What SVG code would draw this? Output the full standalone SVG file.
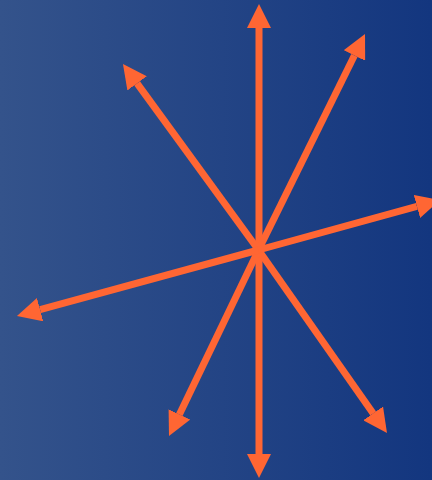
<svg xmlns="http://www.w3.org/2000/svg" width="432" height="480" viewBox="0 0 432 480">
<defs>
<linearGradient id="bg" x1="0" y1="0" x2="1" y2="0">
<stop offset="0" stop-color="#34538b"/>
<stop offset="1" stop-color="#13367f"/>
</linearGradient>
<marker id="ah" viewBox="0 0 24 24" refX="0" refY="12" markerWidth="24" markerHeight="24" markerUnits="userSpaceOnUse" orient="auto">
<path d="M0,0 L24,12 L0,24 Z" fill="#ff6633"/>
</marker>
<style>
.ray{stroke:#ff6633;stroke-width:7;fill:none;stroke-linecap:butt;marker-end:url(#ah);}
</style>
</defs>
<rect x="0" y="0" width="432" height="480" fill="url(#bg)"/>
<g id="connectors">
<line class="ray" x1="259" y1="250" x2="259" y2="28"/>
<line class="ray" x1="259" y1="250" x2="259" y2="454"/>
<line class="ray" x1="258.5" y1="250" x2="354.4" y2="55.5"/>
<line class="ray" x1="258.5" y1="250" x2="179.4" y2="414.4"/>
<line class="ray" x1="258.5" y1="250" x2="137.1" y2="83.4"/>
<line class="ray" x1="258.5" y1="250" x2="373.2" y2="413.4"/>
<line class="ray" x1="258.5" y1="250" x2="416.9" y2="206.4"/>
<line class="ray" x1="258.5" y1="250" x2="40.1" y2="309.7"/>
</g>
</svg>
